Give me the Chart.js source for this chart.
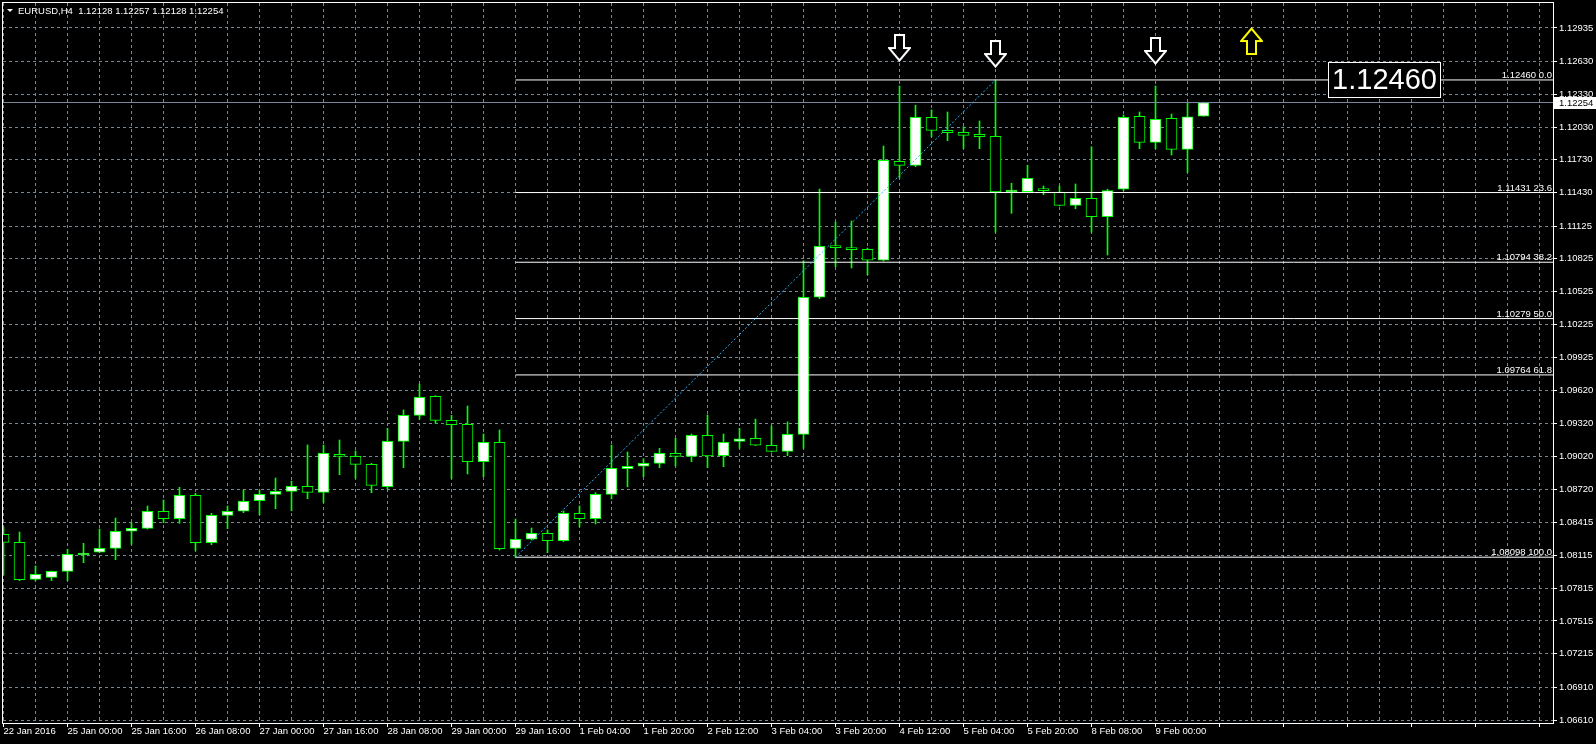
<!DOCTYPE html>
<html>
<head>
<meta charset="utf-8">
<title>EURUSD,H4</title>
<script src="https://cdn.jsdelivr.net/npm/chart.js@4.4.1/dist/chart.umd.min.js"></script>
<style>
  html, body { margin: 0; padding: 0; background: #000; }
  canvas { display: block; }
</style>
</head>
<body>
<canvas id="grafica" width="1596" height="744"></canvas>
<script>
// etiquetas del eje X, una cada 4 velas (H4)
const etiquetasX = ['22 Jan 2016', '25 Jan 00:00', '25 Jan 16:00', '26 Jan 08:00', '27 Jan 00:00', '27 Jan 16:00',
  '28 Jan 08:00', '29 Jan 00:00', '29 Jan 16:00', '1 Feb 04:00', '1 Feb 20:00', '2 Feb 12:00', '3 Feb 04:00',
  '3 Feb 20:00', '4 Feb 12:00', '5 Feb 04:00', '5 Feb 20:00', '8 Feb 08:00', '9 Feb 00:00'];

// velas: apertura, maximo, minimo, cierre
const apertura = [1.08307, 1.08234, 1.07896, 1.07914, 1.07969, 1.08118, 1.08143, 1.08179, 1.08335, 1.08362,
  1.08518, 1.08450, 1.08664, 1.08231, 1.08481, 1.08518, 1.08615, 1.08673, 1.08700, 1.08746,
  1.08691, 1.09039, 1.09020, 1.08947, 1.08742, 1.09157, 1.09395, 1.09569, 1.09349, 1.09313,
  1.08971, 1.09148, 1.08179, 1.08262, 1.08317, 1.08249, 1.08499, 1.08450, 1.08673, 1.08907,
  1.08929, 1.08956, 1.09048, 1.09020, 1.09212, 1.09026, 1.09157, 1.09185, 1.09121, 1.09066,
  1.09221, 1.10474, 1.10940, 1.10921, 1.10912, 1.10812, 1.11717, 1.11680, 1.12119, 1.12000,
  1.11982, 1.11963, 1.11945, 1.11436, 1.11439, 1.11457, 1.11436, 1.11314, 1.11378, 1.11210,
  1.11461, 1.12128, 1.11890, 1.12110, 1.11826, 1.12128];
const maximo = [1.08374, 1.08328, 1.08018, 1.07972, 1.08170, 1.08225, 1.08356, 1.08456, 1.08413, 1.08566,
  1.08621, 1.08737, 1.08682, 1.08499, 1.08566, 1.08712, 1.08712, 1.08822, 1.08794, 1.09124,
  1.09124, 1.09169, 1.09069, 1.08956, 1.09276, 1.09444, 1.09681, 1.09575, 1.09395, 1.09480,
  1.09224, 1.09261, 1.08447, 1.08365, 1.08347, 1.08520, 1.08566, 1.08688, 1.09124, 1.09060,
  1.08998, 1.09093, 1.09185, 1.09224, 1.09398, 1.09224, 1.09276, 1.09361, 1.09297, 1.09334,
  1.10808, 1.11463, 1.11162, 1.11171, 1.10924, 1.11856, 1.12405, 1.12229, 1.12186, 1.12167,
  1.12033, 1.12085, 1.12460, 1.11516, 1.11680, 1.11491, 1.11491, 1.11509, 1.11850, 1.11461,
  1.12140, 1.12167, 1.12405, 1.12149, 1.12247, 1.12257];
const minimo = [1.07935, 1.07884, 1.07884, 1.07884, 1.07884, 1.08048, 1.08140, 1.08075, 1.08216, 1.08355,
  1.08413, 1.08408, 1.08158, 1.08212, 1.08359, 1.08505, 1.08487, 1.08541, 1.08523, 1.08633,
  1.08596, 1.08852, 1.08819, 1.08688, 1.08719, 1.08916, 1.09359, 1.09322, 1.08816, 1.08859,
  1.08834, 1.08164, 1.08098, 1.08255, 1.08139, 1.08240, 1.08377, 1.08402, 1.08630, 1.08742,
  1.08834, 1.08916, 1.08932, 1.08971, 1.08916, 1.08925, 1.09093, 1.09118, 1.09060, 1.09026,
  1.09093, 1.10461, 1.10753, 1.10741, 1.10680, 1.10805, 1.11564, 1.11667, 1.11942, 1.11905,
  1.11835, 1.11832, 1.11068, 1.11241, 1.11436, 1.11411, 1.11310, 1.11283, 1.11068, 1.10860,
  1.11448, 1.11832, 1.11832, 1.11774, 1.11616, 1.12128];
const cierre = [1.08234, 1.07892, 1.07942, 1.07969, 1.08125, 1.08130, 1.08179, 1.08335, 1.08362, 1.08518,
  1.08450, 1.08664, 1.08231, 1.08481, 1.08518, 1.08609, 1.08673, 1.08700, 1.08746, 1.08691,
  1.09048, 1.09020, 1.08947, 1.08755, 1.09157, 1.09395, 1.09560, 1.09349, 1.09309, 1.08971,
  1.09148, 1.08176, 1.08262, 1.08317, 1.08249, 1.08499, 1.08450, 1.08673, 1.08911, 1.08929,
  1.08956, 1.09048, 1.09020, 1.09212, 1.09023, 1.09148, 1.09181, 1.09121, 1.09066, 1.09221,
  1.10474, 1.10940, 1.10927, 1.10909, 1.10812, 1.11726, 1.11680, 1.12119, 1.12000, 1.11978,
  1.11954, 1.11942, 1.11436, 1.11439, 1.11561, 1.11448, 1.11314, 1.11378, 1.11210, 1.11448,
  1.12119, 1.11890, 1.12100, 1.11826, 1.12124, 1.12254];

// etiquetas del eje de precios
const valoresY = [1.12935, 1.12630, 1.12330, 1.12030, 1.11730, 1.11430, 1.11125, 1.10825, 1.10525, 1.10225,
  1.09925, 1.09620, 1.09320, 1.09020, 1.08720, 1.08415, 1.08115, 1.07815, 1.07515, 1.07215, 1.06910, 1.06610];

// niveles de Fibonacci (de 1.08098 a 1.12460)
const nivelesFibo = [1.12460, 1.11431, 1.10794, 1.10279, 1.09764, 1.08098];
const porcentajesFibo = ['0.0', '23.6', '38.2', '50.0', '61.8', '100.0'];
const lineaTendencia = [{ x: 32, y: 1.08098 }, { x: 62, y: 1.12460 }];
const velaInicioFibo = 32;

const precioBid = 1.12254;
const titulo = 'EURUSD,H4  1.12128 1.12257 1.12128 1.12254';
const textoEtiqueta = '1.12460';

// flechas dibujadas en el grafico (vela, precio)
const flechasAbajo = [{ x: 56, y: 1.12752 }, { x: 62, y: 1.12697 }, { x: 72, y: 1.12725 }];
const flechasArriba = [{ x: 78, y: 1.12816 }];

const xMin = -0.03125;
const xMax = 96.84375;
const yMin = 1.0658268;
const yMax = 1.1316348;

const fuente = '"Liberation Sans", Arial, sans-serif';
const tamFuente = 9.5;
const gris = '#778899';

// dibuja una flecha hueca en un canvas pequeño para usarla como punto
const crearFlecha = function (color, haciaAbajo) {
  const c = document.createElement('canvas');
  c.width = 23;
  c.height = 28;
  const g = c.getContext('2d');
  if (!haciaAbajo) {
    g.translate(0, 28);
    g.scale(1, -1);
  }
  g.beginPath();
  g.moveTo(7, 1);
  g.lineTo(16, 1);
  g.lineTo(16, 14);
  g.lineTo(22, 14);
  g.lineTo(11.5, 26.5);
  g.lineTo(1, 14);
  g.lineTo(7, 14);
  g.closePath();
  g.fillStyle = '#000';
  g.fill();
  g.lineWidth = 2;
  g.strokeStyle = color;
  g.stroke();
  return c;
};

const indices = apertura.map((_, i) => i);
const datosMecha = indices.map((i) => ({ x: i, y: [minimo[i], maximo[i]] }));
const datosCuerpo = indices.map((i) => ({ x: i, y: [apertura[i], cierre[i]] }));
const coloresCuerpo = indices.map((i) => (cierre[i] >= apertura[i] ? '#ffffff' : '#000000'));

const datasetsFibo = nivelesFibo.map((n) => ({
  type: 'line',
  data: [{ x: velaInicioFibo, y: n }, { x: xMax, y: n }],
  borderColor: '#ffffff',
  borderWidth: 1,
  pointRadius: 0,
  order: 2,
}));

// textos y marcos que no son del propio Chart.js
const decoraciones = {
  id: 'decoraciones',
  afterDraw(chart) {
    const { ctx, chartArea: a, scales } = chart;
    const y = scales.y;
    ctx.save();
    ctx.strokeStyle = '#ffffff';
    ctx.lineWidth = 1;
    ctx.strokeRect(a.left - 0.5, a.top - 0.5, a.right - a.left + 1, a.bottom - a.top + 1);

    // titulo arriba a la izquierda
    ctx.fillStyle = '#ffffff';
    ctx.beginPath();
    ctx.moveTo(7, 9);
    ctx.lineTo(13, 9);
    ctx.lineTo(10, 12);
    ctx.closePath();
    ctx.fill();
    ctx.font = tamFuente + 'px ' + fuente;
    ctx.textBaseline = 'alphabetic';
    ctx.textAlign = 'left';
    ctx.fillText(titulo, 18, 14);

    // textos de los niveles fibo
    ctx.textAlign = 'right';
    nivelesFibo.forEach((n, k) => {
      const py = y.getPixelForValue(n);
      ctx.fillText(n.toFixed(5) + ' ' + porcentajesFibo[k], a.right - 1, py - 2);
    });

    // caja del precio actual en el eje
    const pb = Math.round(y.getPixelForValue(precioBid));
    ctx.fillStyle = '#ffffff';
    ctx.fillRect(a.right + 1, pb - 6, chart.width - a.right - 1, 12);
    ctx.fillStyle = '#000000';
    ctx.textAlign = 'left';
    ctx.textBaseline = 'middle';
    ctx.fillText(precioBid.toFixed(5), a.right + 6, pb + 0.5);

    // etiqueta grande con el maximo
    const bx = a.right - 225;
    const by = a.top + 59;
    ctx.fillStyle = '#000000';
    ctx.fillRect(bx, by, 113, 36);
    ctx.strokeStyle = '#ffffff';
    ctx.strokeRect(bx + 0.5, by + 0.5, 112, 35);
    ctx.fillStyle = '#ffffff';
    ctx.font = '29px ' + fuente;
    ctx.textAlign = 'center';
    ctx.fillText(textoEtiqueta, bx + 56.5, by + 19);
    ctx.restore();
  },
};

new Chart(document.getElementById('grafica'), {
  type: 'bar',
  data: {
    datasets: [
      {
        type: 'bar',
        data: datosMecha,
        backgroundColor: '#00ff00',
        borderWidth: 0,
        barThickness: 1,
        grouped: false,
        order: 6,
      },
      {
        type: 'bar',
        data: datosCuerpo,
        backgroundColor: coloresCuerpo,
        borderColor: '#00ff00',
        borderWidth: 1,
        borderSkipped: false,
        barThickness: 11,
        minBarLength: 2,
        grouped: false,
        order: 5,
      },
      {
        type: 'line',
        data: [{ x: xMin, y: precioBid }, { x: xMax, y: precioBid }],
        borderColor: gris,
        borderWidth: 1,
        pointRadius: 0,
        order: 4,
      },
      ...datasetsFibo,
      {
        type: 'line',
        data: lineaTendencia,
        borderColor: '#2eb0ff',
        borderWidth: 1,
        borderDash: [2, 2],
        pointRadius: 0,
        order: 1,
      },
      {
        type: 'line',
        data: flechasAbajo,
        showLine: false,
        pointStyle: crearFlecha('#ffffff', true),
        pointRadius: 12,
        order: 0,
      },
      {
        type: 'line',
        data: flechasArriba,
        showLine: false,
        pointStyle: crearFlecha('#ffff00', false),
        pointRadius: 12,
        order: 0,
      },
    ],
  },
  options: {
    responsive: false,
    animation: false,
    events: [],
    layout: { autoPadding: false, padding: { left: 3, top: 3, right: 0, bottom: 0 } },
    plugins: { legend: { display: false }, tooltip: { enabled: false } },
    scales: {
      x: {
        type: 'linear',
        min: xMin,
        max: xMax,
        offset: false,
        grid: {
          color: gris,
          offset: false,
          tickLength: 4,
          tickColor: (c) => (c.tick && c.tick.value % 4 === 0 ? '#ffffff' : 'rgba(0,0,0,0)'),
        },
        border: { display: false, dash: [3, 3] },
        afterBuildTicks: (s) => {
          const t = [];
          for (let v = 0; v <= xMax; v += 2) t.push({ value: v });
          s.ticks = t;
        },
        afterFit: (s) => {
          s.height = 21;
          s.paddingLeft = 0;
          s.paddingRight = 0;
        },
        ticks: {
          color: '#ffffff',
          font: { family: fuente, size: tamFuente },
          align: 'start',
          autoSkip: false,
          maxRotation: 0,
          minRotation: 0,
          padding: -1,
          callback: (v) => (v % 4 === 0 ? etiquetasX[v / 4] || '' : ''),
        },
      },
      y: {
        type: 'linear',
        position: 'right',
        min: yMin,
        max: yMax,
        grid: { color: gris, tickLength: 4, tickColor: '#ffffff' },
        border: { display: false, dash: [3, 3] },
        afterBuildTicks: (s) => {
          s.ticks = valoresY.map((v) => ({ value: v }));
        },
        afterFit: (s) => {
          s.width = 43;
          s.paddingTop = 0;
          s.paddingBottom = 0;
        },
        ticks: {
          color: '#ffffff',
          font: { family: fuente, size: tamFuente },
          padding: 2,
          callback: (v) => v.toFixed(5),
        },
      },
    },
  },
  plugins: [decoraciones],
});
</script>
</body>
</html>
